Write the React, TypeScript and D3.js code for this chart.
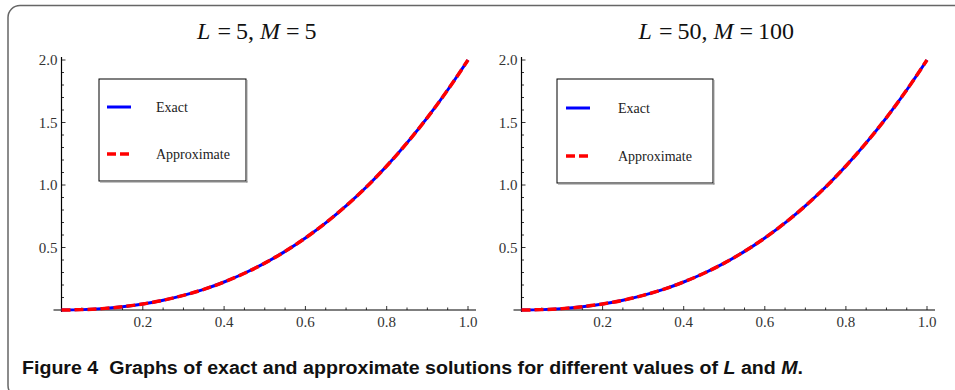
import React from "react";
import * as d3 from "d3";

// values (both panels show the same solution)
const xs = [0, 0.05, 0.1, 0.15, 0.2, 0.25, 0.3, 0.35, 0.4, 0.45, 0.5, 0.55, 0.6, 0.65, 0.7, 0.75, 0.8, 0.85, 0.9, 0.95, 1.0];
const exactLeft = [0, 0.003, 0.011, 0.026, 0.048, 0.078, 0.117, 0.165, 0.224, 0.294, 0.375, 0.469, 0.576, 0.697, 0.833, 0.984, 1.152, 1.337, 1.539, 1.76, 2.0];
const approxLeft = [0, 0.003, 0.011, 0.026, 0.048, 0.078, 0.117, 0.165, 0.224, 0.294, 0.375, 0.469, 0.576, 0.697, 0.833, 0.984, 1.152, 1.337, 1.539, 1.76, 2.0];
const exactRight = [0, 0.003, 0.011, 0.026, 0.048, 0.078, 0.117, 0.165, 0.224, 0.294, 0.375, 0.469, 0.576, 0.697, 0.833, 0.984, 1.152, 1.337, 1.539, 1.76, 2.0];
const approxRight = [0, 0.003, 0.011, 0.026, 0.048, 0.078, 0.117, 0.165, 0.224, 0.294, 0.375, 0.469, 0.576, 0.697, 0.833, 0.984, 1.152, 1.337, 1.539, 1.76, 2.0];

const xTickLabels = [0.2, 0.4, 0.6, 0.8, 1.0];
const yTickLabels = [0.5, 1.0, 1.5, 2.0];
const legendLabels = ["Exact", "Approximate"];
const caption = "Figure 4\u00a0\u00a0Graphs of exact and approximate solutions for different values of ";

interface PanelProps {
  x0: number;
  x1: number;
  lTitle: string;
  mTitle: string;
  exact: number[];
  approx: number[];
  legend: { x: number; y: number; w: number; h: number; lx: number; tx: number; rows: number[] };
}

function Panel({ x0, x1, lTitle, mTitle, exact, approx, legend }: PanelProps) {
  const x = d3.scaleLinear().domain([0, 1]).range([x0, x1]);
  const y = d3.scaleLinear().domain([0, 2]).range([310, 60]);
  const line = (vals: number[]) =>
    d3
      .line<number>()
      .x((_, i) => x(xs[i]))
      .y((d) => y(d))
      .curve(d3.curveMonotoneX)(vals) || "";

  const xMinor = d3.range(0, 1.0001, 0.05);
  const yMinor = d3.range(0, 2.0001, 0.1);
  const serif = "'Liberation Serif', 'Times New Roman', serif";
  const cx = (x0 + x1) / 2 - 8;

  return (
    <g>
      <text x={cx} y={39} textAnchor="middle" fontFamily={serif} fontSize={24} fill="#111">
        <tspan fontStyle="italic">L</tspan>
        <tspan dx={7}>=</tspan>
        <tspan dx={5}>{lTitle + ","}</tspan>
        <tspan dx={6} fontStyle="italic">M</tspan>
        <tspan dx={6}>=</tspan>
        <tspan dx={5}>{mTitle}</tspan>
      </text>

      {/* axes */}
      <line x1={x0 - 8} x2={x1 + 8} y1={y(0)} y2={y(0)} stroke="#000" strokeWidth={1.2} />
      <line x1={x0} x2={x0} y1={y(0) + 2} y2={y(2) - 3} stroke="#000" strokeWidth={1.2} />
      {xMinor.map((t, i) => {
        const major = i % 4 === 0;
        return (
          <line key={"xt" + i} x1={x(t)} x2={x(t)} y1={y(0)} y2={y(0) - (major ? 4 : 2.5)} stroke="#000" strokeWidth={0.8} />
        );
      })}
      {yMinor.map((t, i) => {
        const major = i % 5 === 0;
        return (
          <line key={"yt" + i} x1={x0} x2={x0 + (major ? 4 : 2.5)} y1={y(t)} y2={y(t)} stroke="#000" strokeWidth={0.8} />
        );
      })}
      {xTickLabels.map((t) => (
        <text key={"xl" + t} x={x(t)} y={326.5} textAnchor="middle" fontFamily={serif} fontSize={15} fill="#333">
          {t.toFixed(1)}
        </text>
      ))}
      {yTickLabels.map((t) => (
        <text key={"yl" + t} x={x0 - 4} y={y(t) + 5} textAnchor="end" fontFamily={serif} fontSize={15} fill="#333">
          {t.toFixed(1)}
        </text>
      ))}

      {/* curves */}
      <path d={line(exact)} fill="none" stroke="#0000ff" strokeWidth={3} />
      <path d={line(approx)} fill="none" stroke="#ff0000" strokeWidth={3.5} strokeDasharray="9,4" />

      {/* legend */}
      <rect x={legend.x} y={legend.y} width={legend.w} height={legend.h} fill="#fff" stroke="#000" strokeWidth={1} />
      <line x1={legend.x + legend.w + 0.8} x2={legend.x + legend.w + 0.8} y1={legend.y + 1} y2={legend.y + legend.h + 1.5} stroke="#888" strokeWidth={1.2} />
      <line x1={legend.x + 1} x2={legend.x + legend.w + 1.5} y1={legend.y + legend.h + 0.8} y2={legend.y + legend.h + 0.8} stroke="#888" strokeWidth={1.2} />
      <line x1={legend.lx} x2={legend.lx + 24} y1={legend.rows[0]} y2={legend.rows[0]} stroke="#0000ff" strokeWidth={3} />
      <line x1={legend.lx} x2={legend.lx + 24} y1={legend.rows[1]} y2={legend.rows[1]} stroke="#ff0000" strokeWidth={3.5} strokeDasharray="9,4" />
      {legendLabels.map((lab, i) => (
        <text key={lab} x={legend.tx} y={legend.rows[i] + 4.5} fontFamily={serif} fontSize={14} fill="#222">
          {lab}
        </text>
      ))}
    </g>
  );
}

export default function App() {
  return (
    <svg width={955} height={390} style={{ position: "absolute", left: 0, top: 0, background: "#fff" }}>
      <rect x={8} y={5.5} width={1000} height={392} rx={12} fill="#fff" stroke="#666" strokeWidth={1.5} />
      <Panel
        x0={61.5}
        x1={468}
        lTitle="5"
        mTitle="5"
        exact={exactLeft}
        approx={approxLeft}
        legend={{ x: 99, y: 79, w: 147, h: 102, lx: 107, tx: 156, rows: [107, 154] }}
      />
      <Panel
        x0={521.5}
        x1={927}
        lTitle="50"
        mTitle="100"
        exact={exactRight}
        approx={approxRight}
        legend={{ x: 557, y: 79, w: 156, h: 104, lx: 566, tx: 618, rows: [108, 156] }}
      />
      <text x={22} y={374} fontFamily="'Liberation Sans', Arial, sans-serif" fontWeight="bold" fontSize={18} fill="#111" textLength={781} lengthAdjust="spacingAndGlyphs">
        {caption}
        <tspan fontStyle="italic">L</tspan>
        <tspan> and </tspan>
        <tspan fontStyle="italic">M</tspan>
        <tspan>.</tspan>
      </text>
    </svg>
  );
}
